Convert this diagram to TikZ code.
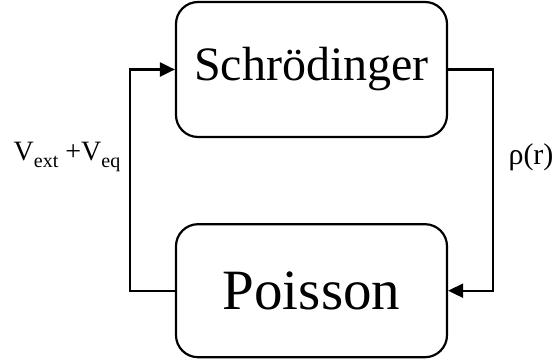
\documentclass[tikz,border=0pt]{standalone}
\usepackage{fontspec}
\setmainfont{Liberation Serif}
\usetikzlibrary{arrows.meta,positioning}

\newcommand{\lowidx}[1]{\raisebox{-0.22em}{\fontsize{20}{20}\selectfont #1}}

\tikzset{
  solver/.style={rectangle,draw,rounded corners=22pt,line width=2.2pt,minimum width=271pt,inner sep=0pt},
  loop/.style={line width=2.2pt,-{Triangle[length=15pt,width=14pt]}}
}

\begin{document}
\begin{tikzpicture}[x=1pt,y=1pt]
  \useasboundingbox (0,0) rectangle (552,-363);
  \node[solver,minimum height=135pt] (schr) at (311.5,-69.5) {\fontsize{48}{52}\selectfont Schrödinger};
  \node[solver,minimum height=133pt,below=85pt of schr] (poisson) {\fontsize{57}{60}\selectfont Poisson};
  % feedback loop
  \draw[loop] (schr.east) -- ++(45,0) |- (poisson.east);
  \draw[loop] (poisson.west) -- ++(-45,0) |- (schr.west);
  \node[font=\fontsize{28}{30}\selectfont] (pot) at (67,-157) {V\lowidx{ext} +V\lowidx{eq}};
  \node[font=\fontsize{30}{32}\selectfont] (rho) at (531,-157) {ρ(r)};
\end{tikzpicture}
\end{document}
